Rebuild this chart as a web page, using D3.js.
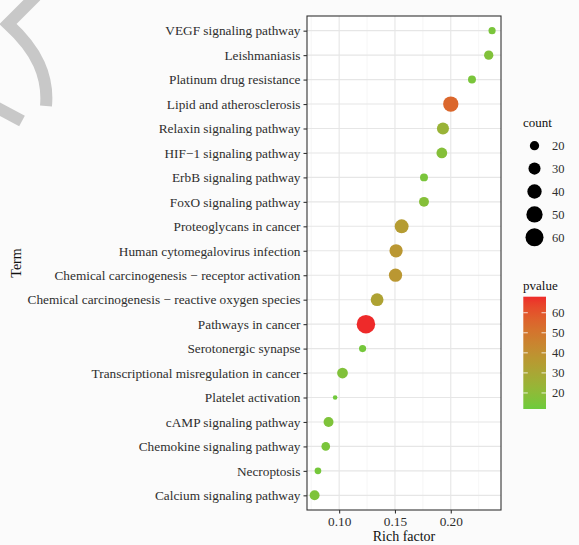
<!DOCTYPE html>
<html>
<head>
<meta charset="utf-8">
<script src="https://cdn.jsdelivr.net/npm/d3@7"></script>
<style>
  html, body { margin: 0; padding: 0; background: #fbfbfb; }
  svg { display: block; }
  text { font-family: "Liberation Serif", "DejaVu Serif", serif; }
</style>
</head>
<body>
<div id="chart"></div>
<script>
// ---------- data ----------
const terms = [
  "VEGF signaling pathway",
  "Leishmaniasis",
  "Platinum drug resistance",
  "Lipid and atherosclerosis",
  "Relaxin signaling pathway",
  "HIF\u22121 signaling pathway",
  "ErbB signaling pathway",
  "FoxO signaling pathway",
  "Proteoglycans in cancer",
  "Human cytomegalovirus infection",
  "Chemical carcinogenesis \u2212 receptor activation",
  "Chemical carcinogenesis \u2212 reactive oxygen species",
  "Pathways in cancer",
  "Serotonergic synapse",
  "Transcriptional misregulation in cancer",
  "Platelet activation",
  "cAMP signaling pathway",
  "Chemokine signaling pathway",
  "Necroptosis",
  "Calcium signaling pathway"
];
const richFactor = [0.237, 0.234, 0.219, 0.200, 0.193, 0.192, 0.176, 0.176, 0.156, 0.151,
                    0.1505, 0.134, 0.124, 0.121, 0.103, 0.0964, 0.0905, 0.088, 0.081, 0.078];
const counts = [14, 20, 16, 45, 30, 25, 16, 22, 38, 35,
                35, 33, 63, 14, 25, 9, 22, 18, 13, 22];
const pvalues = [15, 17, 15, 55, 24, 18, 15, 18, 35, 37,
                 37, 32, 68, 14, 17, 13, 16, 15, 14, 16];
const xTicks = [0.10, 0.15, 0.20];
const xMinorTicks = [0.075, 0.125, 0.175, 0.225];
const countLegend = [20, 30, 40, 50, 60];
const pvalueTicks = [20, 30, 40, 50, 60];

// ---------- layout ----------
const W = 579, H = 545;
const panel = { left: 307, right: 501, top: 16, bottom: 510 };

const svg = d3.select("#chart").append("svg")
  .attr("width", W).attr("height", H);

svg.append("rect").attr("width", W).attr("height", H).attr("fill", "#fbfbfb");

// decorative grey strokes top-left
svg.append("path")
  .attr("d", "M36,-4 L8,24 Q30,44 39,64 Q48,84 46,106")
  .attr("fill", "none").attr("stroke", "#c8c8c8").attr("stroke-width", 12)
  .attr("stroke-linejoin", "miter");
svg.append("path")
  .attr("d", "M-6,106 L22,121")
  .attr("fill", "none").attr("stroke", "#c8c8c8").attr("stroke-width", 12);

// ---------- scales ----------
const x = d3.scaleLinear().domain([0.0712, 0.245]).range([panel.left, panel.right]);
const y = d3.scalePoint().domain(terms).range([panel.top, panel.bottom]).padding(0.6);
const area = d3.scaleLinear().domain([20, 60]).range([86.5, 324]);
const diam = c => Math.sqrt(Math.max(area(c), 4));
const color = d3.scaleLinear().domain([12, 68]).range(["#6ccb3c", "#ee2a2a"])
  .interpolate(d3.interpolateLab);

// ---------- panel ----------
svg.append("rect")
  .attr("x", panel.left).attr("y", panel.top)
  .attr("width", panel.right - panel.left).attr("height", panel.bottom - panel.top)
  .attr("fill", "#ffffff");

const grid = svg.append("g");
grid.selectAll("line.minor").data(xMinorTicks).join("line")
  .attr("x1", d => x(d)).attr("x2", d => x(d))
  .attr("y1", panel.top).attr("y2", panel.bottom)
  .attr("stroke", "#f0f0f0").attr("stroke-width", 0.6);
grid.selectAll("line.majx").data(xTicks).join("line")
  .attr("x1", d => x(d)).attr("x2", d => x(d))
  .attr("y1", panel.top).attr("y2", panel.bottom)
  .attr("stroke", "#e6e6e6").attr("stroke-width", 1.1);
grid.selectAll("line.majy").data(terms).join("line")
  .attr("x1", panel.left).attr("x2", panel.right)
  .attr("y1", d => y(d)).attr("y2", d => y(d))
  .attr("stroke", "#e6e6e6").attr("stroke-width", 1.1);

// points
const pts = terms.map((t, i) => ({ t, rf: richFactor[i], c: counts[i], p: pvalues[i] }));
svg.append("g").selectAll("circle").data(pts).join("circle")
  .attr("cx", d => x(d.rf)).attr("cy", d => y(d.t))
  .attr("r", d => diam(d.c) / 2)
  .attr("fill", d => color(d.p));

// panel border
svg.append("rect")
  .attr("x", panel.left).attr("y", panel.top)
  .attr("width", panel.right - panel.left).attr("height", panel.bottom - panel.top)
  .attr("fill", "none").attr("stroke", "#333333").attr("stroke-width", 1.1);

// ---------- axes ----------
const xAxis = svg.append("g").attr("transform", `translate(0,${panel.bottom})`)
  .call(d3.axisBottom(x).tickValues(xTicks).tickFormat(d3.format(".2f")).tickSize(3.5).tickPadding(3));
const yAxis = svg.append("g").attr("transform", `translate(${panel.left},0)`)
  .call(d3.axisLeft(y).tickSize(3.5).tickPadding(3));
[xAxis, yAxis].forEach(a => {
  a.attr("font-size", 13.3).attr("font-family", '"Liberation Serif", serif');
  a.select(".domain").remove();
  a.selectAll(".tick line").attr("stroke", "#333333").attr("stroke-width", 1.1);
  a.selectAll(".tick text").attr("fill", "#2e2e2e");
});

svg.append("text")
  .attr("x", (panel.left + panel.right) / 2).attr("y", 541)
  .attr("text-anchor", "middle").attr("font-size", 14).attr("fill", "#111")
  .text("Rich factor");
svg.append("text")
  .attr("transform", `translate(21,${(panel.top + panel.bottom) / 2}) rotate(-90)`)
  .attr("text-anchor", "middle").attr("font-size", 14).attr("fill", "#111")
  .text("Term");

// ---------- size legend ----------
const lg = svg.append("g");
lg.append("text").attr("x", 523).attr("y", 127).attr("font-size", 13).attr("fill", "#111").text("count");
const ly = d3.scalePoint().domain(countLegend).range([145.7, 237.3]);
lg.selectAll("circle").data(countLegend).join("circle")
  .attr("cx", 534.5).attr("cy", d => ly(d)).attr("r", d => diam(d) / 2).attr("fill", "#000");
lg.selectAll("text.lab").data(countLegend).join("text")
  .attr("x", 552).attr("y", d => ly(d) + 4.5).attr("font-size", 12.5).attr("fill", "#2e2e2e")
  .text(d => d);

// ---------- colour legend ----------
const cb = { x: 523.3, w: 22.7, top: 296.7, bottom: 409 };
const cy = d3.scaleLinear().domain(color.domain()).range([cb.bottom, cb.top]);
const defs = svg.append("defs");
const grad = defs.append("linearGradient").attr("id", "pgrad")
  .attr("x1", 0).attr("y1", 1).attr("x2", 0).attr("y2", 0);
d3.range(0, 1.0001, 0.05).forEach(f => {
  const v = color.domain()[0] + f * (color.domain()[1] - color.domain()[0]);
  grad.append("stop").attr("offset", f).attr("stop-color", color(v));
});
svg.append("text").attr("x", 523).attr("y", 290).attr("font-size", 13).attr("fill", "#111").text("pvalue");
svg.append("rect").attr("x", cb.x).attr("y", cb.top).attr("width", cb.w).attr("height", cb.bottom - cb.top)
  .attr("fill", "url(#pgrad)");
const cbt = svg.append("g");
cbt.selectAll("line.l").data(pvalueTicks).join("line")
  .attr("x1", cb.x).attr("x2", cb.x + 4.5).attr("y1", d => cy(d)).attr("y2", d => cy(d))
  .attr("stroke", "#ffffff").attr("stroke-opacity", 0.8).attr("stroke-width", 1);
cbt.selectAll("line.r").data(pvalueTicks).join("line")
  .attr("x1", cb.x + cb.w - 4.5).attr("x2", cb.x + cb.w).attr("y1", d => cy(d)).attr("y2", d => cy(d))
  .attr("stroke", "#ffffff").attr("stroke-opacity", 0.8).attr("stroke-width", 1);
cbt.selectAll("text").data(pvalueTicks).join("text")
  .attr("x", 552).attr("y", d => cy(d) + 4.5).attr("font-size", 12.5).attr("fill", "#2e2e2e")
  .text(d => d);
</script>
</body>
</html>
